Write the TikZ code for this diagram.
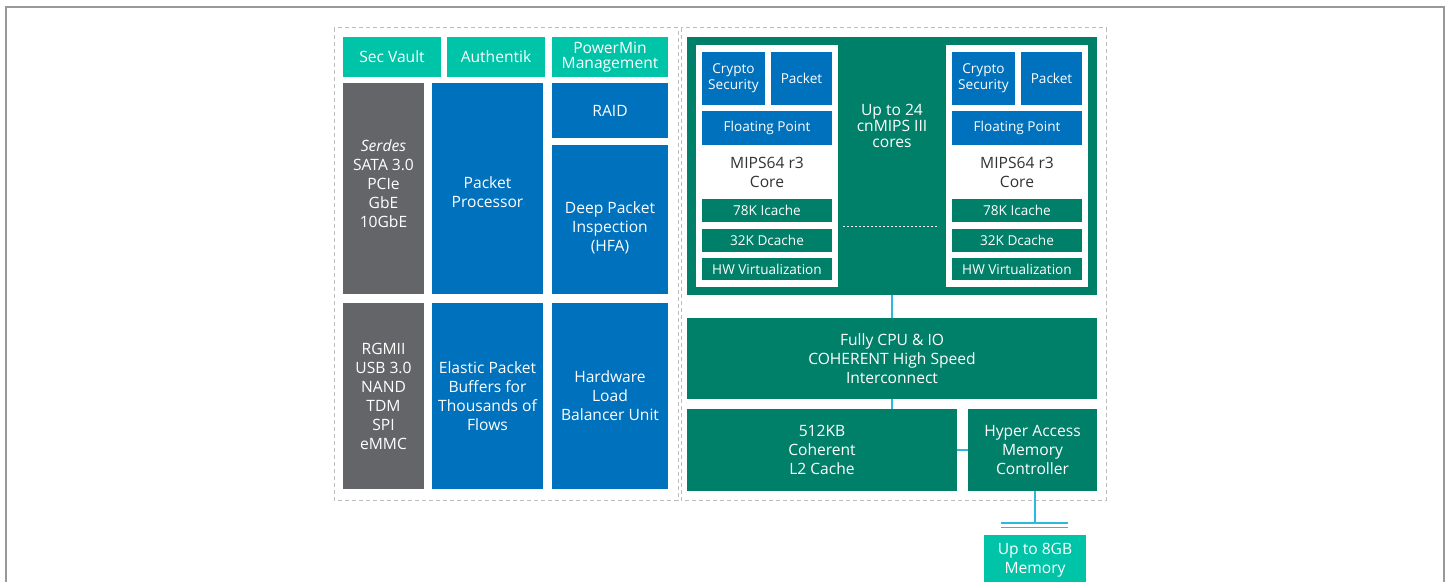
\documentclass[tikz,border=0pt]{standalone}
\usepackage{fontspec}
\setmainfont{Open Sans}
\usepackage{tikz}

\definecolor{vaultteal}{HTML}{00C4A8}
\definecolor{serdesgray}{HTML}{636569}
\definecolor{engblue}{HTML}{0071BC}
\definecolor{coregreen}{HTML}{007F69}
\definecolor{linkblue}{HTML}{2DB8E0}
\definecolor{framegray}{HTML}{BDBDBD}

\tikzset{
  blk/.style={inner sep=0pt, outer sep=0pt, align=center, text=white, font=\fontsize{7.8}{9.5}\selectfont},
  tealblk/.style={blk, fill=vaultteal},
  grayblk/.style={blk, fill=serdesgray},
  blueblk/.style={blk, fill=engblue},
  greenblk/.style={blk, fill=coregreen},
  smallblk/.style={font=\fontsize{6.8}{8}\selectfont},
  link/.style={draw=linkblue, line width=0.7pt},
  dashframe/.style={draw=framegray, line width=0.5pt, dash pattern=on 2pt off 1.5pt}
}

\begin{document}
\begin{tikzpicture}[x=0.5pt,y=-0.5pt]
\useasboundingbox (0,0) rectangle (1450,582);
% page frame
\draw[gray!80, line width=0.6pt] (6,582) -- (6,7) -- (1444,7) -- (1444,582);
% dashed groups
\draw[dashframe] (334,28) rectangle (678,500);
\draw[dashframe] (681,28) rectangle (1106,500);
% left half
\node[tealblk, minimum width=49pt, minimum height=20pt] (secvault) at (392,57) {Sec Vault};
\node[tealblk, minimum width=49pt, minimum height=20pt] (authentik) at (496,57) {Authentik};
\node[tealblk, minimum width=58pt, minimum height=20pt, font=\fontsize{7.8}{7.5}\selectfont] (powermin) at (610,57) {PowerMin\\Management};
\node[grayblk, minimum width=40.5pt, minimum height=105.5pt] (serdes) at (383.5,188.5) {};
\node[blk] (serdestext) at ([yshift=2.25pt]serdes.center) {\textit{Serdes}\\SATA 3.0\\PCIe\\GbE\\10GbE};
\node[blueblk, minimum width=55.5pt, minimum height=105.5pt] (pktproc) at (487.5,188.5) {};
\node[blk] (pktproctext) at ([yshift=-2pt]pktproc.center) {Packet\\Processor};
\node[blueblk, minimum width=58pt, minimum height=27.5pt] (raid) at (610,110.5) {RAID};
\node[blueblk, minimum width=58pt, minimum height=74.5pt] (dpi) at (610,219.5) {};
\node[blk] (dpitext) at ([yshift=-4.25pt]dpi.center) {Deep Packet\\Inspection\\(HFA)};
\node[grayblk, minimum width=40.5pt, minimum height=93pt] (rgmii) at (383.5,396) {RGMII\\USB 3.0\\NAND\\TDM\\SPI\\eMMC};
\node[blueblk, minimum width=55.5pt, minimum height=93pt] (epb) at (487.5,396) {Elastic Packet\\Buffers for\\Thousands of\\Flows};
\node[blueblk, minimum width=58pt, minimum height=93pt] (hwlb) at (610,396) {Hardware\\Load\\Balancer Unit};
% core cluster
\node[greenblk, minimum width=205pt, minimum height=129pt] (cluster) at (892,166) {};
\node[blk, font=\fontsize{7.8}{8}\selectfont] (ncores) at (892,126) {Up to 24\\cnMIPS III\\cores};
\foreach \cx/\side in {767/l, 1017/r} {
  \node[fill=white, inner sep=0pt, minimum width=71pt, minimum height=121pt] (core\side) at (\cx,166) {};
  \node[blueblk, smallblk, minimum width=31.5pt, minimum height=26.5pt] (crypto\side) at (\cx-33.5,78.5) {Crypto\\Security};
  \node[blueblk, smallblk, minimum width=30.5pt, minimum height=26.5pt] (packet\side) at (\cx+34.5,78.5) {Packet};
  \node[blueblk, smallblk, minimum width=65pt, minimum height=17pt] (fp\side) at (\cx,128) {Floating Point};
  \node[blk, text=black!80] (mips\side) at (\cx,172) {MIPS64 r3\\Core};
  \node[greenblk, smallblk, minimum width=65pt, minimum height=11.5pt] (icache\side) at (\cx,210.5) {78K Icache};
  \node[greenblk, smallblk, minimum width=65pt, minimum height=11.5pt] (dcache\side) at (\cx,240.5) {32K Dcache};
  \node[greenblk, smallblk, minimum width=65pt, minimum height=11pt] (hwv\side) at (\cx,269) {HW Virtualization};
}
\coordinate (dotl) at (843,227);
\coordinate (dotr) at (939,227);
\draw[white, line width=0.5pt, dash pattern=on 1pt off 1pt] (dotl) -- (dotr);
% interconnect and memory
\node[greenblk, minimum width=205pt, minimum height=40.5pt] (noc) at (892,358.5) {Fully CPU \& IO\\COHERENT High Speed\\Interconnect};
\node[greenblk, minimum width=135pt, minimum height=41pt] (ltwo) at (822,450) {512KB\\Coherent\\L2 Cache};
\node[greenblk, minimum width=64.5pt, minimum height=41pt] (hamc) at (1032.5,450) {Hyper Access\\Memory\\Controller};
\node[tealblk, minimum width=51pt, minimum height=25.5pt] (dram) at (1035,560.5) {Up to 8GB\\Memory};
\draw[link] (cluster.south) -- (noc.north);
\draw[link] (noc.south) -- (noc.south |- ltwo.north);
\draw[link] (ltwo.east) -- (hamc.west);
\coordinate (bus) at (1035,523);
\coordinate (busl) at (1001,523);
\coordinate (busr) at (1068,523);
\draw[link] (dram.north |- hamc.south) -- (bus);
\draw[link] (busl) -- (busr);
\draw[link] ([yshift=-2.25pt]busl) -- ([yshift=-2.25pt]busr);
\end{tikzpicture}
\end{document}
